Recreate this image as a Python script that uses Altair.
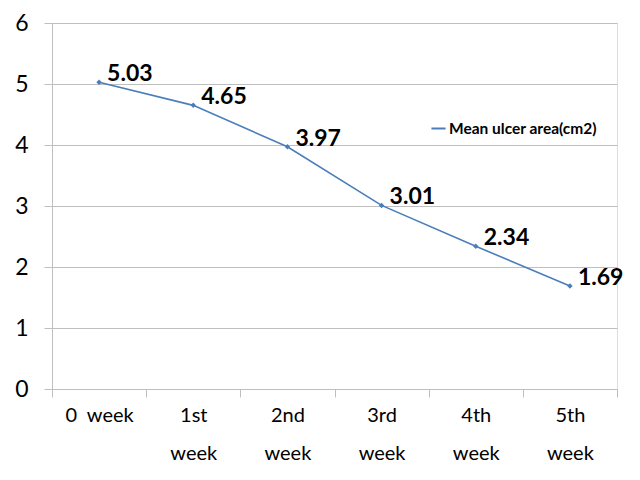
import altair as alt
import pandas as pd

weeks = ["0\u00a0\u00a0week", "1st week", "2nd week", "3rd week", "4th week", "5th week"]
mean_area = [5.03, 4.65, 3.97, 3.01, 2.34, 1.69]
labels = ["5.03", "4.65", "3.97", "3.01", "2.34", "1.69"]
series = "Mean ulcer area(cm2)"

df = pd.DataFrame({"week": weeks, "area": mean_area, "label": labels, "series": series})

FONT = "Lato"
BLUE = "#4A7EBB"

x = alt.X("week:N", sort=weeks, title=None,
          scale=alt.Scale(paddingInner=0, paddingOuter=0),
          axis=alt.Axis(labelAngle=0, labelFont=FONT, labelFontSize=20, labelColor="#000000",
                        labelPadding=8, labelLineHeight=38, labelBaseline="top",
                        labelExpr="indexof(datum.label, 'st') > 0 || indexof(datum.label, 'nd') > 0 || indexof(datum.label, 'rd') > 0 || indexof(datum.label, 'th') > 0 ? split(datum.label, ' ') : datum.label",
                        domainColor="#BFBFBF", tickColor="#BFBFBF", tickSize=8, tickBand="extent",
                        grid=False))
y = alt.Y("area:Q", title=None,
          scale=alt.Scale(domain=[0, 6], nice=False, zero=True),
          axis=alt.Axis(values=[0, 1, 2, 3, 4, 5, 6], format="d", labelFont=FONT, labelFontSize=23,
                        labelColor="#000000", labelPadding=16, tickSize=8, tickColor="#BFBFBF",
                        domainColor="#BFBFBF", gridColor="#BFBFBF", grid=True))

line = alt.Chart(df).mark_line(color=BLUE, strokeWidth=1.6, point=alt.OverlayMarkDef(shape="diamond", size=30, color=BLUE, filled=True)).encode(
    x=x, y=y,
    color=alt.Color("series:N", scale=alt.Scale(range=[BLUE]),
                    legend=alt.Legend(title=None, orient="none", legendX=378, legendY=97,
                                      labelFont=FONT, labelFontSize=15.5, labelFontWeight="bold",
                                      labelColor="#000000", symbolType="stroke", symbolStrokeWidth=2,
                                      symbolSize=200, labelOffset=2))
)

text = alt.Chart(df).mark_text(align="left", baseline="middle", dx=8, dy=-8, font=FONT,
                               fontSize=23, fontWeight="bold", color="#000000").encode(
    x=alt.X("week:N", sort=weeks), y=alt.Y("area:Q"), text="label:N"
)

chart = (line + text).properties(
    width=565, height=366,
    autosize=alt.AutoSizeParams(type="none"),
    padding={"left": 44, "top": 15, "right": 15, "bottom": 83},
).configure_view(stroke=None).configure(background="#ffffff")

chart.save("out.html", embed_options={"renderer": "svg", "actions": False})
